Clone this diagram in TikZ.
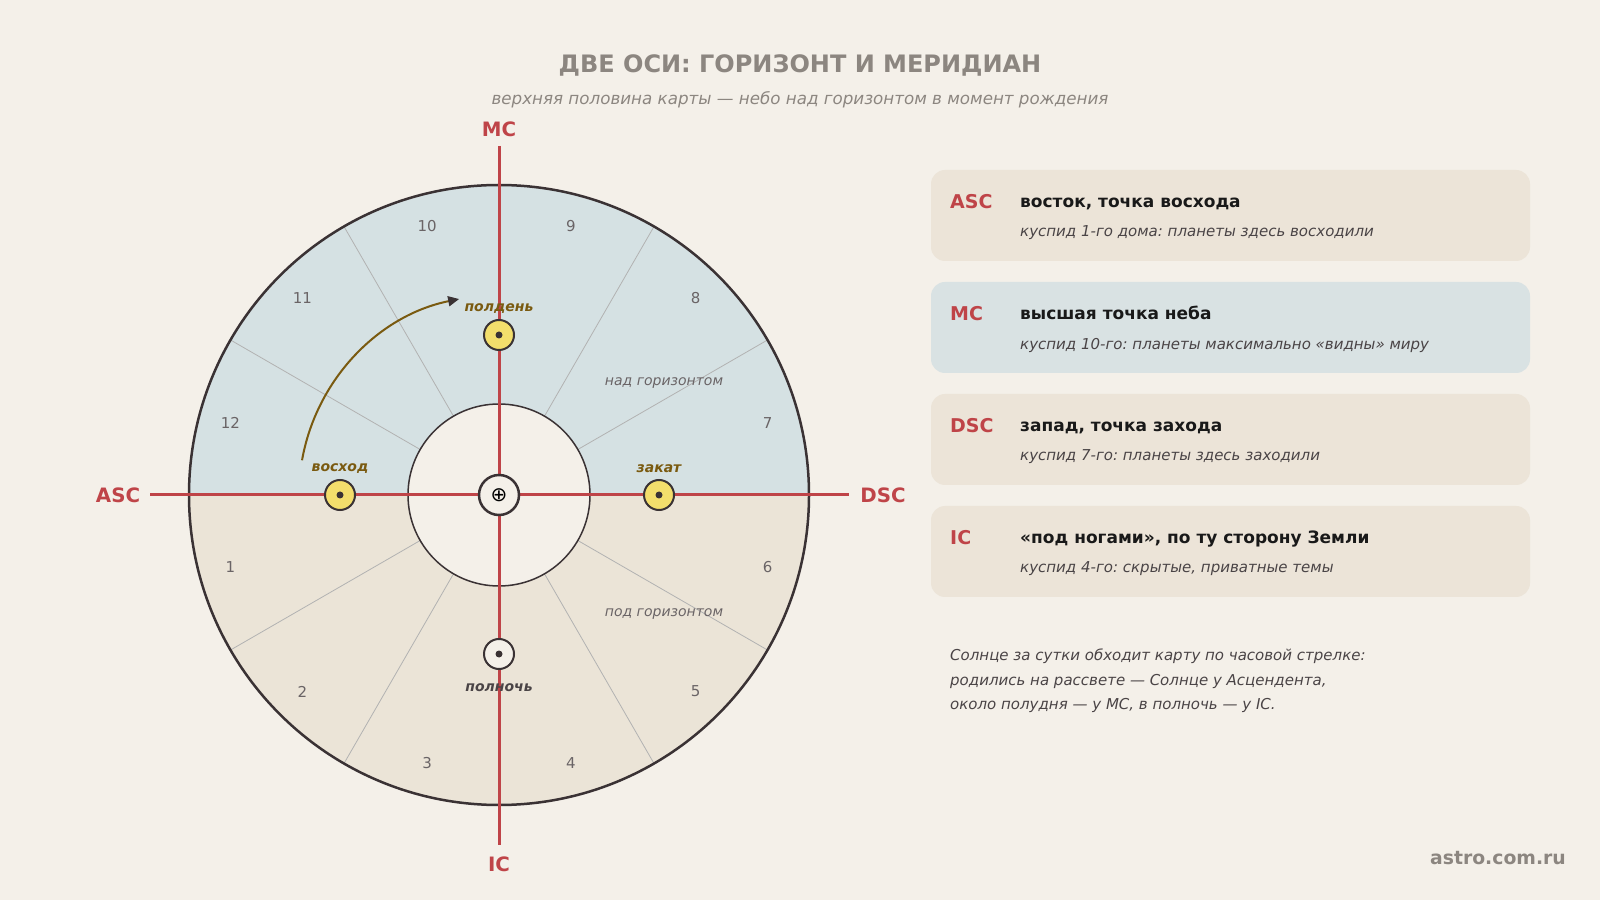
\documentclass[tikz,border=0pt]{standalone}
\usepackage{fontspec}
\setmainfont{DejaVu Sans}
\usetikzlibrary{arrows.meta}
\frenchspacing

\definecolor{paper}{HTML}{F4F0E9}
\definecolor{sky}{HTML}{D5E1E3}
\definecolor{earth}{HTML}{EBE4D7}
\definecolor{ink}{HTML}{3A3234}
\definecolor{axisred}{HTML}{BF4448}
\definecolor{muted}{HTML}{8C8680}
\definecolor{sungold}{HTML}{F3DE6C}
\definecolor{olive}{HTML}{7A5A10}
\definecolor{boxsand}{HTML}{ECE4D8}
\definecolor{boxsky}{HTML}{D9E2E3}
\definecolor{numgray}{HTML}{6A6466}
\definecolor{textdark}{HTML}{4A4446}

\newcommand{\fs}[1]{\fontsize{#1}{#1}\selectfont}

\begin{document}
\begin{tikzpicture}[x=1pt,y=1pt,
	axislabel/.style = {text=axisred, font=\fs{19.8}\bfseries},
	sun/.style       = {circle, draw=ink, line width=2, fill=sungold, minimum size=30, inner sep=0},
	sunlabel/.style  = {text=olive, font=\fs{14}\bfseries\itshape},
	housenum/.style  = {text=numgray, font=\fs{15}},
	infobox/.style   = {rounded corners=14, minimum width=599, minimum height=91, inner sep=0},
	keylabel/.style  = {anchor=west, inner sep=0, text=axisred, font=\fs{19}\bfseries},
	headline/.style  = {anchor=base west, inner sep=0, text=black!90, font=\fs{17}\bfseries},
	subline/.style   = {anchor=west, inner sep=0, text=textdark, font=\fs{15}\itshape},
	note/.style      = {anchor=west, inner sep=0, text=textdark, font=\fs{15}\itshape}]

	% background
	\fill[paper] (0,0) rectangle (1600,900);
	\useasboundingbox (0,0) rectangle (1600,900);

	\node (title)    at (800, 835)	[text=muted, font=\fs{24}\bfseries]	{ДВЕ ОСИ: ГОРИЗОНТ И МЕРИДИАН};
	\node (subtitle) at (800, 800)	[text=muted, font=\fs{16.7}\itshape]	{верхняя половина карты — небо над горизонтом в момент рождения};

	% chart
	\coordinate (C) at (499, 405);
	\fill[sky]   (C) ++(310,0) arc[start angle=0, end angle=180, radius=310] -- cycle;
	\fill[earth] (C) ++(-310,0) arc[start angle=180, end angle=360, radius=310] -- cycle;
	\foreach \a in {30,60,120,150,210,240,300,330}
		\draw[black!30, line width=0.8] (C) ++(\a:91) -- ++(\a:219);
	\foreach \k in {1,...,12}
		\node (house\k) at ([shift={(165+30*\k:278)}]C)	[housenum]	{\k};
	\draw[ink, line width=2.5] (C) circle (310);
	\filldraw[fill=paper, draw=ink, line width=1.5] (C) circle (91);

	\node (above) at (664, 517)	[text=numgray, font=\fs{14}\itshape]	{над горизонтом};
	\node (below) at (664, 286)	[text=numgray, font=\fs{14}\itshape]	{под горизонтом};

	% axes
	\coordinate (mctop)  at (499, 754);
	\coordinate (icbot)  at (499, 55);
	\coordinate (ascend) at (150, 405);
	\coordinate (dscend) at (849, 405);
	\draw[axisred, line width=3] (mctop) -- (icbot);
	\draw[axisred, line width=3] (ascend) -- (dscend);
	\node (MC)  at (499, 771)	[axislabel]	{MC};
	\node (IC)  at (499, 36)	[axislabel]	{IC};
	\node (ASC) at (118, 405)	[axislabel]	{ASC};
	\node (DSC) at (883, 405)	[axislabel]	{DSC};

	\node (earth) at (C)	[circle, draw=ink, line width=2.5, fill=paper, minimum size=40, inner sep=0, font=\fs{20}]	{⊕};

	% the Sun through the day
	\draw[olive, line width=2, -{Triangle[length=11, width=10, fill=ink, color=ink]}]
		(C) ++(170:200) arc[start angle=170, end angle=101.5, radius=200];
	\node (noon)     at (499, 565)	[sun]	{};
	\node (sunrise)  at (340, 405)	[sun]	{};
	\node (sunset)   at (659, 405)	[sun]	{};
	\node (midnight) at (499, 246)	[sun, fill=paper]	{};
	\foreach \s in {noon, sunrise, sunset, midnight}
		\fill[ink] (\s) circle (3.5);
	\node (noonlbl)     at (499, 591)	[sunlabel]	{полдень};
	\node (sunriselbl)  at (340, 431)	[sunlabel]	{восход};
	\node (sunsetlbl)   at (659, 431)	[sunlabel]	{закат};
	\node (midnightlbl) at (499, 212)	[sunlabel, text=textdark]	{полночь};

	% legend
	\node (boxasc) at (1230.5, 684.5)	[infobox, fill=boxsand]	{};
	\node (boxmc)  at (1230.5, 572.5)	[infobox, fill=boxsky]	{};
	\node (boxdsc) at (1230.5, 460.5)	[infobox, fill=boxsand]	{};
	\node (boxic)  at (1230.5, 348.5)	[infobox, fill=boxsand]	{};

	\node (keyasc) at (950, 698)	[keylabel]	{ASC};
	\node (keymc)  at (950, 586)	[keylabel]	{MC};
	\node (keydsc) at (950, 474)	[keylabel]	{DSC};
	\node (keyic)  at (950, 362)	[keylabel]	{IC};

	\node (headasc) at (1020, 692)	[headline]	{восток, точка восхода};
	\node (headmc)  at (1020, 580)	[headline]	{высшая точка неба};
	\node (headdsc) at (1020, 468)	[headline]	{запад, точка захода};
	\node (headic)  at (1020, 356)	[headline]	{«под ногами», по ту сторону Земли};

	\node (subasc) at (1020, 667)	[subline]	{куспид 1-го дома: планеты здесь восходили};
	\node (submc)  at (1020, 555)	[subline]	{куспид 10-го: планеты максимально «видны» миру};
	\node (subdsc) at (1020, 443)	[subline]	{куспид 7-го: планеты здесь заходили};
	\node (subic)  at (1020, 331)	[subline]	{куспид 4-го: скрытые, приватные темы};

	\node (note1) at (950, 244)	[note]	{Солнце за сутки обходит карту по часовой стрелке:};
	\node (note2) at (950, 219)	[note]	{родились на рассвете — Солнце у Асцендента,};
	\node (note3) at (950, 195)	[note]	{около полудня — у MC, в полночь — у IC.};

	\node (site) at (1566, 42)	[anchor=east, inner sep=0, text=muted, font=\fs{18.8}\bfseries]	{astro.com.ru};
\end{tikzpicture}
\end{document}
